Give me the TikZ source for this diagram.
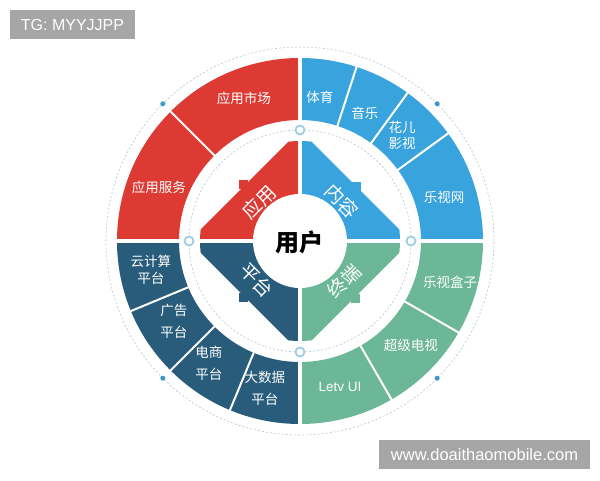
\documentclass[tikz,border=0pt]{standalone}
\usepackage{fontspec}
\setmainfont{Liberation Sans}
\newfontfamily\cjk{Noto Sans CJK SC}
\definecolor{cred}{RGB}{222,58,52}
\definecolor{cblue}{RGB}{56,163,220}
\definecolor{cdark}{RGB}{40,92,122}
\definecolor{cgreen}{RGB}{108,183,152}
\definecolor{wmgray}{RGB}{166,166,166}
\definecolor{ringline}{RGB}{175,200,212}
\definecolor{hollow}{RGB}{160,205,230}
\definecolor{dotblue}{RGB}{60,150,205}
\tikzset{
  olab/.style={text=white,font=\cjk\fontsize{13.5}{15}\selectfont,inner sep=0pt,align=center},
  ilab/.style={text=white,font=\cjk\fontsize{19}{21}\selectfont,inner sep=0pt},
  divider/.style={draw=white,line width=2pt},
  axisgap/.style={draw=white,line width=3.5pt},
  hollowdot/.style={circle,draw=hollow,line width=1.8pt,fill=white,minimum size=9pt,inner sep=0pt},
  ringdot/.style={circle,fill=dotblue,minimum size=5pt,inner sep=0pt},
  wmbox/.style={fill=wmgray,text=white,inner sep=0pt,font=\fontsize{16}{18}\selectfont},
  tab/.style={minimum size=9pt,inner sep=0pt}
}
\begin{document}
\begin{tikzpicture}[x=1pt,y=1pt]
\useasboundingbox (-300,241) rectangle (300,-239);
\fill[white] (-300,241) rectangle (300,-239);
% outer dashed ring
\draw[ringline,line width=0.6pt,dash pattern=on 2pt off 2pt] (0,0) circle[radius=194];
% outer ring quadrants
\fill[cblue] (0:183) arc[start angle=0,end angle=90,radius=183] -- (90:121) arc[start angle=90,end angle=0,radius=121] -- cycle;
\fill[cred] (90:183) arc[start angle=90,end angle=180,radius=183] -- (180:121) arc[start angle=180,end angle=90,radius=121] -- cycle;
\fill[cdark] (180:183) arc[start angle=180,end angle=270,radius=183] -- (270:121) arc[start angle=270,end angle=180,radius=121] -- cycle;
\fill[cgreen] (270:183) arc[start angle=270,end angle=360,radius=183] -- (0:121) arc[start angle=360,end angle=270,radius=121] -- cycle;
% dividers
\foreach \a in {135,72,54,36,-30,-60,202.5,225,247.5}
  \draw[divider] (\a:119) -- (\a:185);
% inner triangles
\begin{scope}
\clip (0,0) circle[radius=100];
\fill[cred] (0,0) -- (0,111) -- (-111,0) -- cycle;
\fill[cblue] (0,0) -- (0,111) -- (111,0) -- cycle;
\fill[cdark] (0,0) -- (0,-111) -- (-111,0) -- cycle;
\fill[cgreen] (0,0) -- (0,-111) -- (111,0) -- cycle;
\end{scope}
% small tabs
\node[tab,fill=cred] (tr) at (-56,57) {};
\node[tab,fill=cblue] (tb) at (57,55) {};
\node[tab,fill=cdark] (td) at (-56,-56) {};
\node[tab,fill=cgreen] (tg) at (56,-57) {};
% axis gaps
\draw[axisgap] (-186,0) -- (186,0);
\draw[axisgap] (0,-186) -- (0,186);
% centre circle
\node[circle,fill=white,minimum size=94pt,inner sep=0pt] (centre) at (0,0) {};
\node[font=\cjk\bfseries\fontsize{24}{26}\selectfont,text=black,inner sep=0pt] (user) at (0,-1) {用户};
% inner dashed circle and hollow dots
\draw[ringline,line width=0.6pt,dash pattern=on 2pt off 2pt] (0,0) circle[radius=111];
\node[hollowdot] (h1) at (0,111) {};
\node[hollowdot] (h2) at (111,0) {};
\node[hollowdot] (h3) at (0,-111) {};
\node[hollowdot] (h4) at (-111,0) {};
% outer ring dots
\foreach \a/\n in {45/d1,135/d2,225/d3,315/d4}
  \node[ringdot] (\n) at (\a:194) {};
% inner labels
\node[ilab,rotate=45] (lyy) at (-41,39) {应用};
\node[ilab,rotate=-45] (lnr) at (42,40) {内容};
\node[ilab,rotate=-45] (lpt) at (-43,-39) {平台};
\node[ilab,rotate=45] (lzd) at (44,-40) {终端};
% outer labels
\node[olab] (o1) at (-56,143) {应用市场};
\node[olab] (o2) at (-141,54) {应用服务};
\node[olab] (o3) at (20,144) {体育};
\node[olab] (o4) at (65,128) {音乐};
\node[olab] (o5) at (102,106) {花儿\\[1pt]影视};
\node[olab] (o6) at (144,44) {乐视网};
\node[olab] (o7) at (150,-41) {乐视盒子};
\node[olab] (o8) at (111,-104) {超级电视};
\node[olab,font=\fontsize{13.5}{15}\selectfont] (o9) at (40,-146) {Letv UI};
\node[olab] (o10) at (-149,-29) {云计算\\[2pt]平台};
\node[olab] (o11) at (-126,-80) {广告\\[7pt]平台};
\node[olab] (o12) at (-91,-122.5) {电商\\[7pt]平台};
\node[olab] (o13) at (-35,-147.5) {大数据\\[7pt]平台};
% watermarks
\node[wmbox,minimum width=125pt,minimum height=29pt] (wm1) at (-227.5,216.5) {TG: MYYJJPP};
\node[wmbox,minimum width=211pt,minimum height=29pt,font=\fontsize{16.5}{18}\selectfont] (wm2) at (184.5,-213.5) {www.doaithaomobile.com};
\end{tikzpicture}
\end{document}
